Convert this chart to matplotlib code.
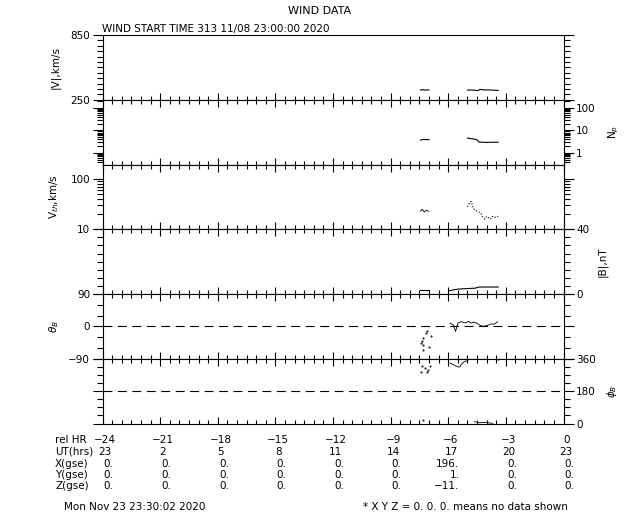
import numpy as np
import matplotlib
matplotlib.use('Agg')
import matplotlib.pyplot as plt
import matplotlib.transforms as mtransforms
from matplotlib.ticker import MultipleLocator, FixedLocator, LogLocator, NullFormatter, FuncFormatter

# ---- data (hours relative to end time) ----
v_t1 = [-7.45, -7.3, -7.2, -7.1, -7.0]
v_1 = [340, 344, 338, 342, 340]
v_t2 = [-5.0, -4.8, -4.6, -4.45, -4.35, -4.2, -4.0, -3.8, -3.6, -3.4]
v_2 = [340, 340, 338, 334, 346, 342, 341, 340, 338, 336]

np_t1 = [-7.45, -7.3, -7.15, -7.0]
np_1 = [3.7, 4.0, 3.9, 3.9]
np_t2 = [-5.0, -4.85, -4.7, -4.5, -4.4, -4.2, -4.0, -3.8, -3.6, -3.4]
np_2 = [4.6, 4.3, 4.2, 3.8, 3.0, 3.0, 2.9, 3.0, 3.0, 3.0]

vth_t1 = [-7.45, -7.35, -7.25, -7.15, -7.05, -7.0]
vth_1 = [23, 25, 22, 24, 23, 23]
vth_t2 = [-5.0, -4.9, -4.8, -4.7, -4.6, -4.5, -4.4, -4.3, -4.2, -4.1, -4.0, -3.9, -3.8, -3.7, -3.6, -3.5, -3.4]
vth_2 = [28, 33, 36, 26, 24, 23, 22, 21, 17, 16, 18, 17, 16, 18, 17, 18, 18]

b_t1 = [-7.45, -7.0]
b_1 = [2.5, 2.5]
b_t2 = [-5.95, -5.7, -5.5, -5.1, -4.6, -4.4, -4.0, -3.4]
b_2 = [2.0, 2.6, 3.0, 3.3, 3.6, 4.3, 4.3, 4.3]

th_t1 = [-7.44, -7.38, -7.33, -7.30, -7.30, -7.16, -7.12, -6.99, -6.92]
th_1 = [-45, -42, -51, -33, -65, -19, -12, -56, -28]
th_t2 = [-5.91, -5.74, -5.62, -5.5, -5.33, -5.2, -5.07, -4.95, -4.81, -4.68, -4.55, -4.45,
         -4.38, -4.2, -4.03, -3.9, -3.77, -3.6, -3.51, -3.42]
th_2 = [9, 4, -14, 9, 13, 11, 10, 14, 9, 12, 10, 7, 4, 0, 2, 4, 7, 6, 10, 13]

ph_t1 = [-7.44, -7.38, -7.2, -7.12, -7.03, -6.95, -7.3]
ph_1 = [289, 317, 308, 289, 299, 317, 20]
ph_t2 = [-5.91, -5.74, -5.57, -5.4, -5.33, -5.16, -4.98]
ph_2 = [336, 327, 317, 314, 327, 345, 350]
ph_t3 = [-4.64, -4.5, -4.38, -4.2, -4.03, -3.85, -3.68, -3.42]
ph_3 = [10, 7, 4.5, 5, 6.6, 3, 1, 358]

rel_hr = ['\u221224', '\u221221', '\u221218', '\u221215', '\u221212', '\u22129', '\u22126', '\u22123', '0']
ut_hrs = ['23', '2', '5', '8', '11', '14', '17', '20', '23']
x_gse = ['0.', '0.', '0.', '0.', '0.', '0.', '196.', '0.', '0.']
y_gse = ['0.', '0.', '0.', '0.', '0.', '0.', '1.', '0.', '0.']
z_gse = ['0.', '0.', '0.', '0.', '0.', '0.', '\u221211.', '0.', '0.']
hr_ticks = [-24, -21, -18, -15, -12, -9, -6, -3, 0]

W, H = 640, 512
fig = plt.figure(figsize=(6.4, 5.12), dpi=100)
plt.rcParams['font.family'] = ['DejaVu Sans']
fs = 7.5
lw = 0.8
intfmt = FuncFormatter(lambda v, p: ('%d' % v).replace('-', '\u2212'))

left, right = 102.5, 563.5
top, bottom = 35, 423.5
ph = (bottom - top) / 6

axes = []
for i in range(6):
    y0 = 1 - (top + (i + 1) * ph) / H
    ax = fig.add_axes([left / W, y0, (right - left) / W, ph / H])
    ax.set_xlim(-24, 0)
    ax.xaxis.set_major_locator(MultipleLocator(3))
    ax.xaxis.set_minor_locator(MultipleLocator(0.5))
    ax.tick_params(axis='x', which='both', direction='in', bottom=True, top=(i > 0),
                   labelbottom=False, labeltop=False, width=lw)
    ax.tick_params(axis='x', which='major', length=5)
    ax.tick_params(axis='x', which='minor', length=3)
    ax.tick_params(axis='y', which='both', direction='out', left=True, right=True,
                   width=lw, labelsize=fs, pad=2)
    ax.tick_params(axis='y', which='major', length=7)
    ax.tick_params(axis='y', which='minor', length=4)
    for s in ax.spines.values():
        s.set_linewidth(lw)
    axes.append(ax)

ax1, ax2, ax3, ax4, ax5, ax6 = axes

# |V|
ax1.plot(v_t1, v_1, 'k-', lw=lw)
ax1.plot(v_t2, v_2, 'k-', lw=lw)
ax1.set_ylim(250, 850)
ax1.yaxis.set_major_locator(FixedLocator([250, 850]))
ax1.yaxis.set_minor_locator(MultipleLocator(50))
ax1.tick_params(axis='y', labelleft=True, labelright=False)
ax1.set_ylabel('|V|,km/s', fontsize=fs)
ax1.yaxis.set_label_coords(-0.09, 0.5)
fig.text(left / W, 1 - 34 / H, 'WIND START TIME 313 11/08 23:00:00 2020',
         fontsize=fs, ha='left', va='bottom')

# Np
ax2.semilogy(np_t1, np_1, 'k-', lw=lw)
ax2.semilogy(np_t2, np_2, 'k-', lw=lw)
ax2.set_ylim(0.31, 225)
ax2.yaxis.set_major_locator(FixedLocator([1, 10, 100]))
ax2.yaxis.set_minor_locator(LogLocator(subs=np.arange(2, 10)))
ax2.yaxis.set_minor_formatter(NullFormatter())
ax2.yaxis.set_major_formatter(intfmt)
ax2.tick_params(axis='y', labelleft=False, labelright=True)
ax2.yaxis.set_label_position('right')
ax2.set_ylabel('N$_p$', fontsize=fs)
ax2.yaxis.set_label_coords(1.094, 0.5)

# Vth
ax3.semilogy(vth_t1, vth_1, 'k-', lw=0.6)
ax3.semilogy(vth_t2, vth_2, 'k:', lw=0.8)
ax3.set_ylim(10, 195)
ax3.yaxis.set_major_locator(FixedLocator([10, 100]))
ax3.yaxis.set_minor_locator(LogLocator(subs=np.arange(2, 10)))
ax3.yaxis.set_minor_formatter(NullFormatter())
ax3.yaxis.set_major_formatter(intfmt)
ax3.tick_params(axis='y', labelleft=True, labelright=False)
ax3.set_ylabel('V$_{th}$,km/s', fontsize=fs)
ax3.yaxis.set_label_coords(-0.09, 0.5)

# |B|
ax4.plot(b_t1, b_1, 'k-', lw=lw)
ax4.plot(b_t2, b_2, 'k-', lw=lw)
ax4.set_ylim(0, 40)
ax4.yaxis.set_major_locator(FixedLocator([0, 40]))
ax4.yaxis.set_minor_locator(MultipleLocator(5))
ax4.tick_params(axis='y', labelleft=False, labelright=True)
ax4.yaxis.set_label_position('right')
ax4.set_ylabel('|B|,nT', fontsize=fs)
ax4.yaxis.set_label_coords(1.073, 0.5)

# theta_B
ax5.plot(th_t1, th_1, 'k.', ms=1.0)
ax5.plot(th_t2, th_2, 'k-', lw=0.6)
ax5.axhline(0, color='k', lw=lw, ls=(0, (8, 5)))
ax5.set_ylim(-90, 90)
ax5.yaxis.set_major_locator(FixedLocator([-90, 0, 90]))
ax5.yaxis.set_minor_locator(MultipleLocator(30))
ax5.yaxis.set_major_formatter(intfmt)
ax5.tick_params(axis='y', labelleft=True, labelright=False)
ax5.set_ylabel(r'$\theta_B$', fontsize=fs)
ax5.yaxis.set_label_coords(-0.09, 0.5)

# phi_B
ax6.plot(ph_t1, ph_1, 'k.', ms=1.0)
ax6.plot(ph_t2, ph_2, 'k-', lw=0.6)
ax6.plot(ph_t3[:-1], ph_3[:-1], 'k-', lw=0.6)
ax6.plot(ph_t3[-1:], ph_3[-1:], 'k.', ms=1.0)
ax6.axhline(180, color='k', lw=lw, ls=(0, (8, 5)))
ax6.set_ylim(0, 360)
ax6.yaxis.set_major_locator(FixedLocator([0, 180, 360]))
ax6.yaxis.set_minor_locator(MultipleLocator(45))
ax6.yaxis.set_major_formatter(intfmt)
ax6.tick_params(axis='y', labelleft=False, labelright=True)
ax6.yaxis.set_label_position('right')
ax6.set_ylabel(r'$\phi_B$', fontsize=fs)
ax6.yaxis.set_label_coords(1.09, 0.5)

# title
fig.text(0.5, 1 - 11 / H, 'WIND DATA', fontsize=8, ha='center', va='center')

# table under the plot
trans = mtransforms.blended_transform_factory(ax6.transData, fig.transFigure)
trans_c = mtransforms.offset_copy(trans, fig=fig, x=2, y=0, units='points')
trans_r = mtransforms.offset_copy(trans, fig=fig, x=8, y=0, units='points')
rows = [('rel HR', rel_hr, 440, trans_c, 'center'),
        ('UT(hrs)', ut_hrs, 452, trans_c, 'center'),
        ('X(gse)', x_gse, 464, trans_r, 'right'),
        ('Y(gse)', y_gse, 475, trans_r, 'right'),
        ('Z(gse)', z_gse, 486, trans_r, 'right')]
for name, vals, ypx, tr, ha in rows:
    fig.text(55 / W, 1 - ypx / H, name, fontsize=fs, ha='left', va='center')
    for t, s in zip(hr_ticks, vals):
        fig.text(t, 1 - ypx / H, s, fontsize=fs, ha=ha, va='center', transform=tr)

fig.text(64 / W, 1 - 507 / H, 'Mon Nov 23 23:30:02 2020', fontsize=fs, ha='left', va='center')
fig.text(363 / W, 1 - 507 / H, '* X Y Z = 0. 0. 0. means no data shown', fontsize=fs,
         ha='left', va='center')

fig.savefig('out.png', dpi=100)
